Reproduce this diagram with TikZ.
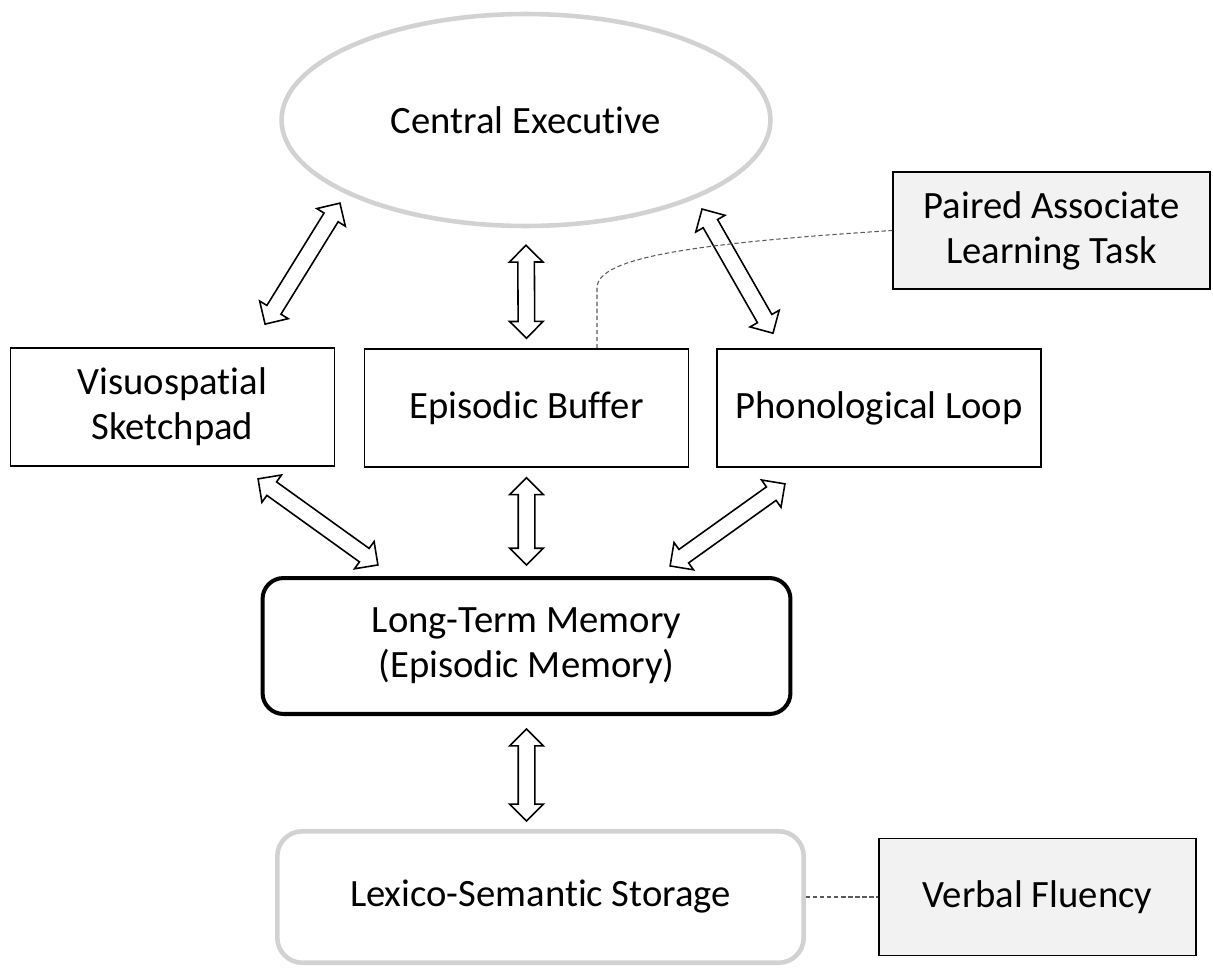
\documentclass[tikz,border=0pt]{standalone}
\usepackage{fontspec}
\setmainfont{Carlito}[Ligatures=NoCommon]
\usepackage{tikz}
\usetikzlibrary{shapes.geometric,shapes.arrows,calc}

\definecolor{lightline}{RGB}{210,210,210}
\definecolor{taskfill}{RGB}{242,242,242}
\definecolor{dashline}{RGB}{90,90,90}

\tikzset{
  lbl/.style={font=\fontsize{22}{25.5}\selectfont, align=center, inner sep=0pt},
  box/.style={lbl, rectangle, draw=black, line width=0.9pt, minimum width=6.48cm, minimum height=2.36cm},
  task/.style={box, fill=taskfill, minimum width=6.34cm, minimum height=2.34cm},
  hollow/.style={double arrow, draw=black, line width=0.9pt, fill=white, inner xsep=0pt, inner ysep=0.15cm,
    minimum width=0.64cm, double arrow head extend=0.17cm, double arrow tip angle=90},
  twoway/.style={to path={let \p1=($(\tikztotarget)-(\tikztostart)$),
      \n1={veclen(\x1,\y1)}, \n2={atan2(\y1,\x1)} in
      node[hollow, minimum height=\n1, rotate=\n2] at ($(\tikztostart)!0.5!(\tikztotarget)$) {}}},
  link/.style={draw=dashline, line width=0.6pt, dash pattern=on 2.5pt off 1.5pt}
}

\begin{document}
\begin{tikzpicture}[x=0.02cm,y=-0.02cm]
      \useasboundingbox (0,0) rectangle (1213,967);

      \node[lbl, ellipse, draw=lightline, line width=2.6pt, minimum width=9.78cm, minimum height=4.24cm] (ce) at (526,120) {Central Executive};
      \node[box] (vs) at (172.5,407) {Visuospatial\\Sketchpad};
      \node[box] (eb) at (526.5,408) {Episodic Buffer};
      \node[box] (pl) at (879,408) {Phonological Loop};
      \node[task] (pal) at (1051.5,230.5) {Paired Associate\\Learning Task};
      \node[lbl, rectangle, rounded corners=0.42cm, draw=black, line width=2.3pt, minimum width=10.56cm, minimum height=2.72cm] (ltm) at (526.5,646) {Long-Term Memory\\(Episodic Memory)};
      \node[lbl, rectangle, rounded corners=0.5cm, draw=lightline, line width=2.6pt, minimum width=10.53cm, minimum height=2.63cm] (lss) at (540.5,897) {Lexico-Semantic Storage};
      \node[task] (vf) at (1037.5,897) {Verbal Fluency};
      \coordinate (lssin) at (ltm.south |- lss.north);

      \draw[twoway] ([shift={(92.5,-23)}]vs.north) to ([shift={(-186,83)}]ce.center);
      \draw[twoway] ([shift={(0,-10)}]eb.north) to ([shift={(0,17)}]ce.south);
      \draw[twoway] ([shift={(-106,-15)}]pl.north) to ([shift={(176,89)}]ce.center);
      \draw[twoway] ([shift={(85.5,12)}]vs.south) to ([shift={(-148.5,-11)}]ltm.north);
      \draw[twoway] ([shift={(0,10)}]eb.south) to ([shift={(0,-11)}]ltm.north);
      \draw[twoway] ([shift={(-94,16)}]pl.south) to ([shift={(143.5,-10)}]ltm.north);
      \draw[twoway] ([shift={(0,13)}]ltm.south) to ([shift={(0,-8)}]lssin);

      \draw[link] ([shift={(70.5,0)}]eb.north) -- ++(0,-60) .. controls +(0,-28) and +(-220,14) .. (pal.west);
      \draw[link] (lss.east) -- (vf.west);
\end{tikzpicture}
\end{document}
